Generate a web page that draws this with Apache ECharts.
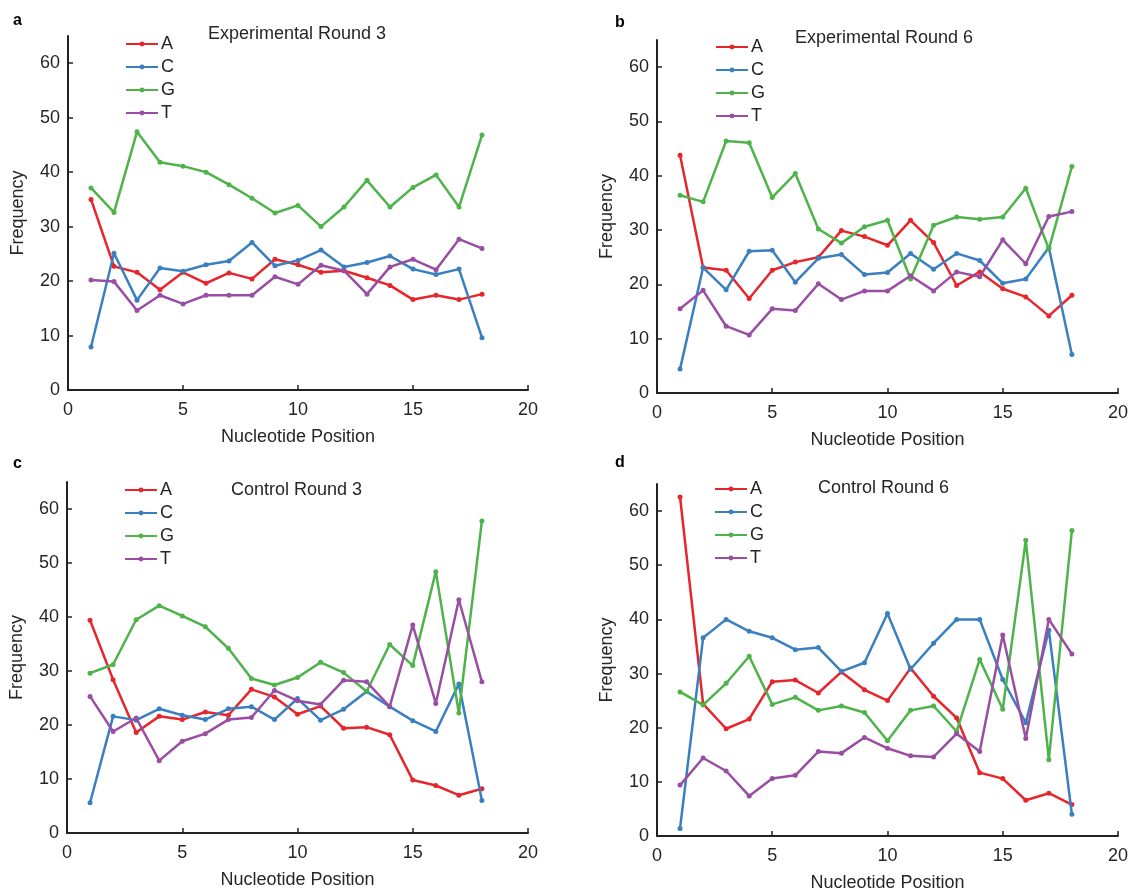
<!DOCTYPE html>
<html><head><meta charset="utf-8">
<script src="https://cdn.jsdelivr.net/npm/echarts@6/dist/echarts.min.js"></script>
<style>html,body{margin:0;padding:0;background:#fff}#c{width:1131px;height:893px}</style>
</head><body><div id="c"></div>
<script>
const positions = [1,2,3,4,5,6,7,8,9,10,11,12,13,14,15,16,17,18];
const bases = ['A','C','G','T'];
const xTicks = [0,5,10,15,20];
const yTicks = [0,10,20,30,40,50,60];
const panelTitles = ['Experimental Round 3','Experimental Round 6','Control Round 3','Control Round 6'];
const panelLetters = ['a','b','c','d'];

// Experimental Round 3
const expR3_A = [35.0,22.7,21.6,18.4,21.6,19.6,21.5,20.4,24.0,23.0,21.6,21.9,20.6,19.2,16.6,17.4,16.6,17.6];
const expR3_C = [7.9,25.1,16.5,22.4,21.8,23.0,23.7,27.1,22.8,23.8,25.7,22.6,23.4,24.6,22.2,21.2,22.2,9.6];
const expR3_G = [37.1,32.6,47.4,41.8,41.1,40.0,37.7,35.2,32.5,33.9,30.0,33.6,38.5,33.6,37.2,39.5,33.6,46.8];
const expR3_T = [20.2,19.9,14.6,17.4,15.8,17.4,17.4,17.4,20.8,19.4,22.9,21.9,17.6,22.6,24.0,22.1,27.7,26.0];
// Experimental Round 6
const expR6_A = [43.8,23.1,22.6,17.4,22.6,24.1,25.0,29.9,28.8,27.2,31.8,27.7,19.8,22.3,19.2,17.7,14.2,18.0];
const expR6_C = [4.4,23.1,19.0,26.1,26.3,20.4,24.8,25.5,21.8,22.2,25.7,22.8,25.7,24.4,20.2,21.0,26.8,7.1];
const expR6_G = [36.4,35.2,46.4,46.1,36.0,40.4,30.2,27.6,30.6,31.8,21.0,30.9,32.4,32.0,32.4,37.7,26.5,41.7];
const expR6_T = [15.5,18.9,12.3,10.7,15.5,15.2,20.1,17.2,18.8,18.8,21.6,18.8,22.3,21.4,28.2,23.8,32.5,33.4];
// Control Round 3
const ctlR3_A = [39.4,28.4,18.6,21.6,21.0,22.4,21.8,26.6,25.2,22.0,23.5,19.4,19.6,18.2,9.8,8.8,7.0,8.2];
const ctlR3_C = [5.6,21.6,20.9,23.0,21.8,21.0,23.0,23.4,21.0,24.9,20.9,22.9,26.2,23.4,20.8,18.8,27.6,6.0];
const ctlR3_G = [29.6,31.2,39.5,42.1,40.2,38.2,34.2,28.6,27.4,28.8,31.6,29.7,26.2,34.9,31.0,48.4,22.2,57.8];
const ctlR3_T = [25.3,18.8,21.3,13.4,17.0,18.4,21.0,21.4,26.4,24.5,23.8,28.3,28.0,23.4,38.5,24.0,43.2,28.0];
// Control Round 6
const ctlR6_A = [62.6,24.4,19.8,21.6,28.5,28.8,26.4,30.3,27.0,25.0,31.0,25.8,21.8,11.7,10.6,6.6,7.9,5.8];
const ctlR6_C = [1.4,36.6,40.0,37.8,36.6,34.4,34.8,30.4,32.0,41.1,30.8,35.6,40.0,40.0,28.9,20.9,38.0,4.0];
const ctlR6_G = [26.6,24.2,28.2,33.2,24.3,25.6,23.2,24.0,22.8,17.6,23.2,24.0,19.3,32.6,23.4,54.6,14.1,56.4];
const ctlR6_T = [9.4,14.4,12.0,7.4,10.6,11.2,15.6,15.3,18.2,16.2,14.8,14.6,18.9,15.6,37.1,18.0,40.0,33.6];

const panelData = [
  [expR3_A, expR3_C, expR3_G, expR3_T],
  [expR6_A, expR6_C, expR6_G, expR6_T],
  [ctlR3_A, ctlR3_C, ctlR3_G, ctlR3_T],
  [ctlR6_A, ctlR6_C, ctlR6_G, ctlR6_T]
];

const colors = ['#e6262b','#3a7fbf','#4db34a','#9a4ea3'];
const FONT = 'Liberation Sans, Arial, Helvetica, sans-serif';
const TXT = '#262626';
const FS = 18;

const grids = [
  {left: 68, top: 36, width: 460, height: 354},
  {left: 657, top: 40, width: 462, height: 353},
  {left: 67, top: 482, width: 461, height: 351},
  {left: 657, top: 484, width: 462, height: 352}
];
const legendPos = [
  {left: 125, top: 35},
  {left: 715, top: 38},
  {left: 124, top: 481},
  {left: 714, top: 480}
];
const titlePos = [
  {left: 208, top: 25},
  {left: 795, top: 29},
  {left: 231, top: 481},
  {left: 818, top: 479}
];
const letterPos = [
  {left: 13, top: 13},
  {left: 615, top: 15},
  {left: 13, top: 456},
  {left: 615, top: 455}
];

const option = {
  animation: false,
  backgroundColor: '#fff',
  textStyle: {fontFamily: FONT},
  grid: grids.map(g => Object.assign({containLabel: false}, g)),
  title: [].concat(
    panelTitles.map((t, i) => ({text: t, left: titlePos[i].left, top: titlePos[i].top, padding: 0,
      textStyle: {fontFamily: FONT, fontSize: FS, fontWeight: 'normal', color: TXT}})),
    panelLetters.map((t, i) => ({text: t, left: letterPos[i].left, top: letterPos[i].top, padding: 0,
      textStyle: {fontFamily: FONT, fontSize: 16, fontWeight: 'bold', color: '#000'}}))
  ),
  legend: legendPos.map((p, i) => ({
    left: p.left, top: p.top, orient: 'vertical', padding: 0,
    itemWidth: 32, itemHeight: 6, itemGap: 5,
    data: bases.map(b => ({name: b})),
    selectedMode: false,
    textStyle: {fontFamily: FONT, fontSize: FS, color: TXT, padding: [0,0,0,-2]}
  })),
  xAxis: grids.map((g, i) => ({
    type: 'value', gridIndex: i, min: 0, max: 20, interval: 5,
    name: 'Nucleotide Position', nameLocation: 'middle', nameGap: 38,
    nameTextStyle: {fontFamily: FONT, fontSize: FS, color: TXT},
    axisLine: {lineStyle: {color: '#222', width: 2}},
    axisTick: {inside: true, length: 5, lineStyle: {color: '#222', width: 1.5}},
    axisLabel: {fontFamily: FONT, fontSize: FS, color: TXT, margin: 11},
    splitLine: {show: false}
  })),
  yAxis: grids.map((g, i) => ({
    type: 'value', gridIndex: i, min: 0, max: 65,
    name: 'Frequency', nameLocation: 'middle', nameGap: 41,
    nameTextStyle: {fontFamily: FONT, fontSize: FS, color: TXT},
    axisLine: {show: true, lineStyle: {color: '#222', width: 2}},
    axisTick: {show: true, inside: true, length: 5, customValues: yTicks, lineStyle: {color: '#222', width: 1.5}},
    axisLabel: {fontFamily: FONT, fontSize: FS, color: TXT, margin: 8, customValues: yTicks},
    splitLine: {show: false}
  })),
  series: []
};

panelData.forEach((arrs, i) => {
  arrs.forEach((vals, k) => {
    option.series.push({
      type: 'line', name: bases[k], xAxisIndex: i, yAxisIndex: i,
      data: positions.map((p, j) => [p, vals[j]]),
      color: colors[k],
      lineStyle: {width: 2.5, color: colors[k]},
      itemStyle: {color: colors[k]},
      symbol: 'circle', symbolSize: 5, showSymbol: true,
      z: 2 + k
    });
  });
});

const chart = echarts.init(document.getElementById('c'), null, {renderer: 'canvas'});
chart.setOption(option);
</script>
</body></html>
